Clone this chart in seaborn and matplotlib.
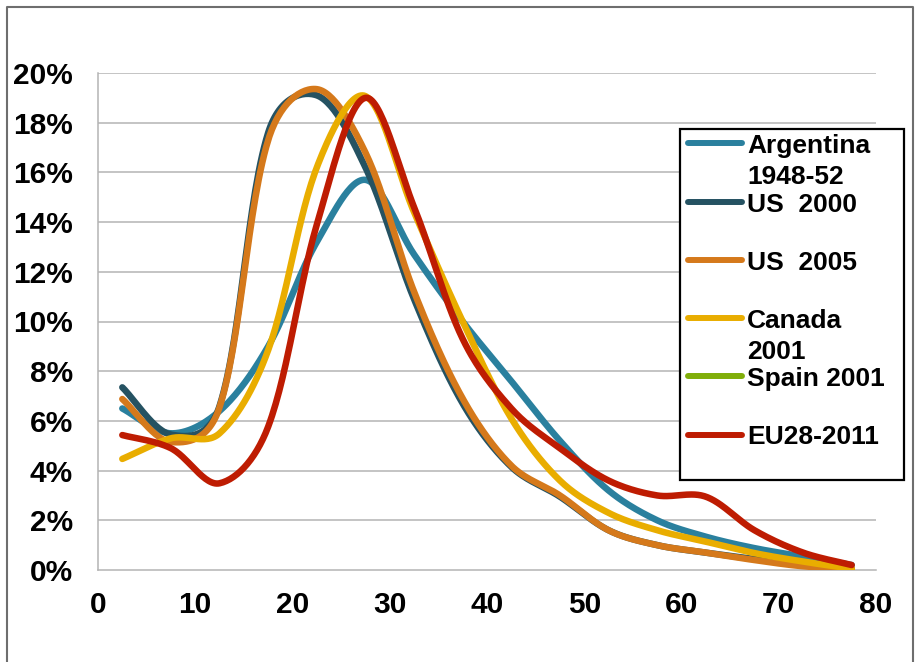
import numpy as np
import pandas as pd
import matplotlib
matplotlib.use("Agg")
import matplotlib.pyplot as plt
from matplotlib.lines import Line2D
from matplotlib.patches import Rectangle
from matplotlib.ticker import FuncFormatter
import seaborn as sns

# Age-group midpoints (5-year bands) and share of population (%) per band
ages = [2.5, 7.5, 12.5, 17.5, 22.5, 27.5, 32.5, 37.5,
        42.5, 47.5, 52.5, 57.5, 62.5, 67.5, 72.5, 77.5]

argentina_1948_52 = [6.5, 5.5, 6.4, 9.0, 13.2, 15.7, 12.7, 10.0,
                     7.6, 5.2, 3.2, 2.0, 1.34, 0.88, 0.54, 0.2]
us_2000 = [7.35, 5.45, 6.6, 17.6, 19.1, 16.2, 10.9, 6.7,
           4.15, 2.95, 1.6, 1.0, 0.7, 0.44, 0.2, 0.05]
us_2005 = [6.88, 5.15, 6.55, 17.3, 19.35, 16.8, 11.2, 6.9,
           4.2, 3.0, 1.6, 1.0, 0.7, 0.4, 0.15, 0.05]
canada_2001 = [4.47, 5.3, 5.5, 8.85, 16.2, 19.07, 14.4, 10.0,
               6.1, 3.6, 2.3, 1.6, 1.14, 0.68, 0.34, 0.05]
spain_2001 = []
eu28_2011 = [5.43, 4.9, 3.49, 5.77, 13.9, 19.0, 14.6, 9.3,
             6.5, 4.9, 3.6, 3.0, 2.95, 1.6, 0.7, 0.2]

series_names = ["Argentina\n1948-52", "US  2000", "US  2005",
                "Canada\n2001", "Spain 2001", "EU28-2011"]
series_values = [argentina_1948_52, us_2000, us_2005,
                 canada_2001, spain_2001, eu28_2011]
colors = ["#2A809E", "#255262", "#D5791B", "#E9AD00", "#80AE0A", "#BE1C02"]

y_ticks = [0, 2, 4, 6, 8, 10, 12, 14, 16, 18, 20]
x_ticks = [0, 10, 20, 30, 40, 50, 60, 70, 80]

# relative screen scale of one x unit vs one y unit, used for chord lengths
X_SCALE, Y_SCALE = 9.725, 24.85
CHORD_MIX = 0.5


def smooth_curve(x, y, steps=30):
    """Smoothed line: cubic Bezier segments, tangents partly weighted by chord length."""
    p = np.column_stack([x, y]).astype(float)
    s = np.array([X_SCALE, Y_SCALE])
    n = len(p)
    out = []

    def arms(i):
        prev = p[i - 1] if i > 0 else p[i]
        nxt = p[i + 1] if i < n - 1 else p[i]
        tan = nxt - prev
        d_prev = np.linalg.norm((p[i] - prev) * s)
        d_next = np.linalg.norm((nxt - p[i]) * s)
        tot = d_prev + d_next
        if tot == 0:
            return np.zeros(2), np.zeros(2)
        w_prev = (1 - CHORD_MIX) * 0.5 + CHORD_MIX * d_prev / tot
        w_next = (1 - CHORD_MIX) * 0.5 + CHORD_MIX * d_next / tot
        return tan * w_prev / 3.0, tan * w_next / 3.0

    for i in range(n - 1):
        p1, p2 = p[i], p[i + 1]
        _, out1 = arms(i)
        in2, _ = arms(i + 1)
        c1 = p1 + out1
        c2 = p2 - in2
        t = np.linspace(0, 1, steps, endpoint=(i == n - 2))[:, None]
        b = ((1 - t) ** 3) * p1 + 3 * (1 - t) ** 2 * t * c1 + 3 * (1 - t) * t ** 2 * c2 + t ** 3 * p2
        out.append(b)
    return np.vstack(out)


rows = []
for name, vals in zip(series_names, series_values):
    if len(vals) == 0:
        continue
    curve = smooth_curve(ages, vals)
    for k, (xx, yy) in enumerate(curve):
        rows.append({"series": name, "order": k, "age": xx, "share": yy})
df = pd.DataFrame(rows)

sns.set_theme(style="white")
plt.rcParams["font.family"] = ["Liberation Sans", "DejaVu Sans"]

W, H = 918, 662
fig = plt.figure(figsize=(W / 100, H / 100), dpi=100)
fig.patch.set_facecolor("white")


def fx(px):
    return px / W


def fy(py):
    return 1 - py / H


ax = fig.add_axes([fx(98), fy(570), fx(876) - fx(98), fy(73) - fy(570)])
ax.set_facecolor("white")

grid_col = "#B4B4B4"
for v in y_ticks[1:]:
    ax.axhline(v, color=grid_col, lw=1.1, zorder=0)

palette = {n: c for n, c in zip(series_names, colors)}
drawn = [n for n, v in zip(series_names, series_values) if len(v)]
for name in drawn:
    sub = df[df["series"] == name]
    sns.lineplot(data=sub, x="age", y="share", sort=False, estimator=None,
                 color=palette[name], lw=4.7, ax=ax, legend=False,
                 solid_capstyle="round", solid_joinstyle="round", zorder=3)

ax.set_xlim(0, 80)
ax.set_ylim(0, 20)
ax.set_xticks(x_ticks)
ax.set_yticks(y_ticks)
ax.yaxis.set_major_formatter(FuncFormatter(lambda v, _: f"{v:.0f}%"))
ax.set_xlabel("")
ax.set_ylabel("")

for side in ["top", "right"]:
    ax.spines[side].set_visible(False)
for side in ["left", "bottom"]:
    ax.spines[side].set_color(grid_col)
    ax.spines[side].set_linewidth(1.1)

ax.tick_params(axis="both", which="major", direction="out", color=grid_col,
               width=1.1, labelsize=21.5, labelcolor="black")
ax.tick_params(axis="y", length=9, pad=9)
ax.tick_params(axis="x", length=8, pad=7)
for lbl in ax.get_xticklabels() + ax.get_yticklabels():
    lbl.set_fontweight("bold")

# Legend box drawn in figure pixels
fig.add_artist(Rectangle((fx(680), fy(480)), fx(904) - fx(680), fy(129) - fy(480),
                         transform=fig.transFigure, facecolor="white",
                         edgecolor="black", lw=1.6, zorder=10))
handle_y = [142.7, 201.5, 259.5, 317.7, 375.7, 434.5]
for name, col, hy in zip(series_names, colors, handle_y):
    fig.add_artist(Line2D([fx(688), fx(742)], [fy(hy), fy(hy)], color=col, lw=4.3,
                          solid_capstyle="round", transform=fig.transFigure, zorder=11))
    for j, part in enumerate(name.split("\n")):
        fig.text(fx(747), fy(hy + 10 + 31 * j), part, fontsize=19, fontweight="bold",
                 color="black", ha="left", va="baseline", zorder=12)

# Outer frame (top, left, right)
fig.add_artist(Line2D([fx(6.5), fx(6.5), fx(912.5), fx(912.5)],
                      [fy(700), fy(6.5), fy(6.5), fy(700)],
                      color="#6E6E6E", lw=1.5, transform=fig.transFigure, zorder=20))

fig.savefig("out.png", dpi=100, facecolor="white")
